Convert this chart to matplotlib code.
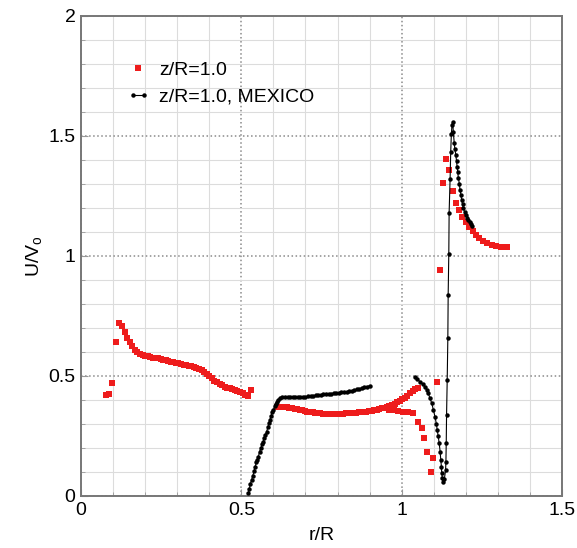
import numpy as np
import matplotlib
matplotlib.use("Agg")
import matplotlib.pyplot as plt
from matplotlib.legend_handler import HandlerLine2D

plt.rcParams['font.family'] = ['Liberation Sans', 'DejaVu Sans']
plt.rcParams['mathtext.fontset'] = 'custom'
plt.rcParams['mathtext.rm'] = 'Liberation Sans'
plt.rcParams['mathtext.it'] = 'Liberation Sans'

# z/R=1.0 (computed), red squares
red_x = [0.077, 0.088, 0.098, 0.110, 0.120, 0.128, 0.136, 0.144, 0.152, 0.160,
         0.168, 0.176, 0.184, 0.192, 0.200, 0.208, 0.216, 0.224, 0.232, 0.240,
         0.248, 0.256, 0.264, 0.272, 0.280, 0.288, 0.296, 0.304, 0.312, 0.320,
         0.328, 0.336, 0.344, 0.352, 0.360, 0.368, 0.376, 0.384, 0.392, 0.400,
         0.408, 0.416, 0.424, 0.432, 0.440, 0.448, 0.456, 0.464, 0.472, 0.480,
         0.488, 0.496, 0.504, 0.512, 0.520, 0.530,
         0.610, 0.618, 0.626, 0.634, 0.642, 0.650, 0.658, 0.666, 0.674, 0.682,
         0.690, 0.698, 0.706, 0.714, 0.722, 0.730, 0.738, 0.746, 0.754, 0.762,
         0.770, 0.778, 0.786, 0.794, 0.802, 0.810, 0.818, 0.826, 0.834, 0.842,
         0.850, 0.858, 0.866, 0.874, 0.882, 0.890, 0.898, 0.906, 0.914, 0.922,
         0.930, 0.938, 0.946, 0.954, 0.962, 0.970, 0.978, 0.986, 0.994, 1.002,
         1.010, 1.018, 1.026, 1.034, 1.042, 1.050,
         0.960, 0.975, 0.990, 1.005, 1.020, 1.035,
         1.052, 1.062, 1.070, 1.080, 1.099, 1.090, 1.111, 1.119, 1.130, 1.137,
         1.149, 1.159, 1.169, 1.180, 1.189, 1.200, 1.211, 1.221, 1.232, 1.242,
         1.255, 1.267, 1.281, 1.294, 1.309, 1.322, 1.329]
red_y = [0.420, 0.425, 0.470, 0.640, 0.720, 0.710, 0.685, 0.660, 0.640, 0.625,
         0.610, 0.600, 0.590, 0.587, 0.585, 0.583, 0.580, 0.577, 0.575, 0.573,
         0.570, 0.568, 0.565, 0.563, 0.560, 0.558, 0.556, 0.553, 0.550, 0.547,
         0.545, 0.542, 0.540, 0.537, 0.533, 0.530, 0.525, 0.518, 0.510, 0.500,
         0.490, 0.480, 0.473, 0.468, 0.462, 0.456, 0.452, 0.448, 0.445, 0.442,
         0.438, 0.433, 0.428, 0.420, 0.415, 0.440,
         0.372, 0.372, 0.371, 0.370, 0.369, 0.368, 0.366, 0.364, 0.362, 0.360,
         0.357, 0.354, 0.352, 0.350, 0.348, 0.346, 0.345, 0.344, 0.343, 0.343,
         0.342, 0.341, 0.341, 0.340, 0.341, 0.342, 0.343, 0.344, 0.344, 0.345,
         0.346, 0.347, 0.348, 0.349, 0.350, 0.351, 0.353, 0.355, 0.357, 0.360,
         0.362, 0.365, 0.368, 0.372, 0.376, 0.380, 0.385, 0.390, 0.396, 0.403,
         0.410, 0.418, 0.428, 0.438, 0.447, 0.452,
         0.360, 0.357, 0.355, 0.352, 0.350, 0.345,
         0.310, 0.282, 0.240, 0.185, 0.157, 0.100, 0.476, 0.940, 1.303, 1.403,
         1.358, 1.272, 1.222, 1.192, 1.164, 1.143, 1.122, 1.104, 1.088, 1.074,
         1.063, 1.053, 1.046, 1.042, 1.039, 1.036, 1.036]

# z/R=1.0, MEXICO, black line with dots (nan = gap in the traverse)
mex_x = [0.522, 0.525, 0.528, 0.532, 0.536, 0.540, 0.543, 0.547, 0.550, 0.553,
         0.557, 0.561, 0.565, 0.568, 0.572, 0.575, 0.579, 0.583, 0.586, 0.589,
         0.593, 0.597, 0.600, 0.604, 0.607, 0.610, 0.615, 0.620, 0.628, 0.636,
         0.644, 0.652, 0.660, 0.668, 0.676, 0.684, 0.692, 0.700, 0.708, 0.716,
         0.724, 0.732, 0.740, 0.748, 0.756, 0.764, 0.772, 0.780, 0.788, 0.796,
         0.804, 0.812, 0.820, 0.828, 0.836, 0.844, 0.852, 0.860, 0.868, 0.876,
         0.884, 0.892, 0.900,
         np.nan,
         1.041, 1.049, 1.057, 1.065, 1.073, 1.078, 1.083, 1.088, 1.094, 1.099,
         1.104, 1.108, 1.111, 1.114, 1.117, 1.120, 1.122, 1.124, 1.125, 1.127,
         1.128, 1.133, 1.137, 1.138, 1.139, 1.140, 1.142, 1.144, 1.145, 1.147,
         1.148, 1.151, 1.153, 1.155, 1.157, 1.159, 1.161, 1.164, 1.166, 1.169,
         1.171, 1.173, 1.175, 1.177, 1.180, 1.182, 1.185, 1.187, 1.190, 1.192,
         1.196, 1.200, 1.204, 1.208, 1.212, 1.215, 1.220]
mex_y = [0.012, 0.030, 0.050, 0.067, 0.085, 0.105, 0.122, 0.140, 0.152, 0.164,
         0.185, 0.200, 0.215, 0.226, 0.242, 0.255, 0.268, 0.288, 0.303, 0.317,
         0.335, 0.350, 0.358, 0.375, 0.385, 0.393, 0.402, 0.407, 0.411, 0.413,
         0.413, 0.413, 0.413, 0.413, 0.413, 0.412, 0.412, 0.413, 0.415, 0.417,
         0.418, 0.419, 0.420, 0.421, 0.423, 0.424, 0.425, 0.427, 0.428, 0.430,
         0.431, 0.432, 0.434, 0.435, 0.437, 0.439, 0.441, 0.444, 0.447, 0.450,
         0.453, 0.456, 0.459,
         np.nan,
         0.497, 0.487, 0.476, 0.466, 0.455, 0.442, 0.428, 0.408, 0.386, 0.358,
         0.330, 0.302, 0.275, 0.248, 0.220, 0.185, 0.150, 0.122, 0.095, 0.075,
         0.058, 0.070, 0.108, 0.143, 0.222, 0.337, 0.483, 0.660, 0.838, 1.010,
         1.180, 1.320, 1.435, 1.510, 1.545, 1.560, 1.518, 1.470, 1.445, 1.420,
         1.396, 1.372, 1.348, 1.324, 1.300, 1.275, 1.254, 1.233, 1.216, 1.199,
         1.185, 1.171, 1.160, 1.150, 1.141, 1.133, 1.125]

x_ticks = [0, 0.5, 1, 1.5]
x_tick_labels = ['0', '0.5', '1', '1.5']
y_ticks = [0, 0.5, 1, 1.5, 2]
y_tick_labels = ['0', '0.5', '1', '1.5', '2']

fig = plt.figure(figsize=(5.77, 5.48), dpi=100)
ax = fig.add_axes([81 / 577, 1 - 496 / 548, 481 / 577, 480 / 548])

red_line, = ax.plot(red_x, red_y, linestyle='none', marker='s', markersize=4.8,
                    color='#ee1c1c', markeredgewidth=0, label='z/R=1.0', zorder=3)
mex_line, = ax.plot(mex_x, mex_y, color='black', linewidth=0.8, marker='o',
                    markersize=3.2, markeredgewidth=0, label='z/R=1.0, MEXICO',
                    zorder=4)

ax.set_xlim(0, 1.5)
ax.set_ylim(0, 2)
ax.set_xticks(x_ticks)
ax.set_xticklabels(x_tick_labels)
ax.set_yticks(y_ticks)
ax.set_yticklabels(y_tick_labels)
ax.set_xticks(np.arange(0, 1.51, 0.1), minor=True)
ax.set_yticks(np.arange(0, 2.01, 0.1), minor=True)

ax.grid(which='major', color='#8a8a8a', linestyle=':', linewidth=1.1)
ax.grid(which='minor', color='#dcdcdc', linestyle='-', linewidth=0.8)
ax.set_axisbelow(True)

for s in ax.spines.values():
    s.set_color('#777777')
    s.set_linewidth(1.4)
ax.tick_params(which='both', direction='in', color='#999999', labelsize=14,
               top=False, right=False)
ax.tick_params(which='major', length=5, pad=4)
ax.tick_params(which='minor', length=3)

ax.set_xlabel('r/R', fontsize=14, labelpad=6)
ax.set_ylabel(r'U/V$_\mathrm{o}$', fontsize=14, labelpad=3)

ax.legend(handles=[red_line, mex_line], loc='upper left',
          bbox_to_anchor=(0.095, 0.905), frameon=False, fontsize=14,
          borderpad=0, borderaxespad=0, handlelength=1.2, handletextpad=0.45,
          labelspacing=0.45,
          handler_map={red_line: HandlerLine2D(numpoints=1),
                       mex_line: HandlerLine2D(numpoints=2)})

fig.savefig('out.png', dpi=100)
